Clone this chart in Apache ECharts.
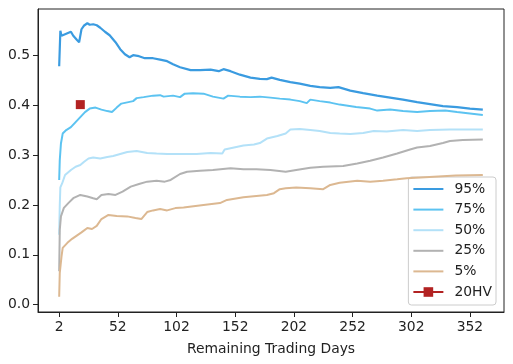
<!DOCTYPE html>
<html>
<head>
<meta charset="utf-8">
<script src="https://cdn.jsdelivr.net/npm/echarts@6/dist/echarts.min.js"></script>
<style>html,body{margin:0;padding:0;background:#fff}#c{width:513px;height:364px}</style>
</head>
<body>
<div id="c"></div>
<script>
const xTicks = [2, 52, 102, 152, 202, 252, 302, 352];
const yTicks = [0, 0.1, 0.2, 0.3, 0.4, 0.5];
const seriesNames = ['95%', '75%', '50%', '25%', '5%', '20HV'];

const p95 = [[2,0.478],[3,0.549],[4,0.539],[7,0.542],[10,0.545],[12,0.547],[14,0.539],[17,0.531],[19,0.526],[21,0.552],[23,0.559],[26,0.564],[28,0.561],[31,0.562],[34,0.560],[37,0.555],[41,0.547],[45,0.540],[50,0.526],[54,0.512],[58,0.502],[62,0.496],[65,0.500],[70,0.498],[75,0.494],[82,0.494],[88,0.491],[94,0.488],[99,0.482],[105,0.476],[114,0.470],[122,0.470],[131,0.471],[138,0.468],[142,0.472],[148,0.468],[156,0.461],[165,0.455],[173,0.4525],[179,0.452],[183,0.455],[190,0.4506],[199,0.446],[207,0.443],[216,0.4386],[224,0.436],[233,0.4347],[240,0.436],[250,0.429],[261,0.424],[273,0.419],[284,0.415],[295,0.411],[307,0.406],[318,0.402],[329,0.398],[341,0.396],[352,0.393],[363,0.391]];

const p75 = [[2,0.25],[2.5,0.29],[3.5,0.323],[5,0.343],[8,0.35],[12,0.356],[16,0.366],[20,0.376],[24,0.386],[28,0.393],[33,0.395],[38,0.391],[43,0.388],[47,0.386],[51,0.395],[55,0.403],[61,0.406],[65,0.408],[68,0.414],[74,0.416],[82,0.419],[88,0.42],[91,0.417],[99,0.419],[105,0.416],[109,0.423],[116,0.424],[125,0.423],[133,0.417],[142,0.413],[146,0.419],[156,0.417],[165,0.416],[173,0.417],[182,0.415],[190,0.413],[199,0.411],[207,0.408],[213,0.404],[216,0.411],[224,0.408],[233,0.405],[241,0.401],[255,0.396],[267,0.393],[273,0.389],[284,0.391],[295,0.388],[307,0.386],[318,0.388],[331,0.389],[341,0.386],[352,0.383],[363,0.380]];

const p50 = [[2,0.14],[2.5,0.2],[3,0.235],[4.5,0.243],[7,0.26],[12,0.27],[16,0.2765],[20,0.28],[23,0.286],[27,0.293],[31,0.295],[37,0.293],[43,0.296],[48,0.298],[54,0.302],[60,0.306],[68,0.308],[77,0.304],[85,0.303],[94,0.302],[105,0.302],[119,0.302],[131,0.304],[141,0.303],[143,0.311],[151,0.315],[159,0.319],[168,0.321],[173,0.324],[179,0.333],[188,0.338],[195,0.343],[199,0.351],[207,0.352],[216,0.35],[224,0.348],[233,0.344],[241,0.343],[250,0.342],[261,0.344],[270,0.348],[281,0.347],[295,0.35],[307,0.348],[318,0.35],[335,0.351],[352,0.351],[363,0.351]];

const p25 = [[2,0.067],[2.5,0.15],[3.5,0.177],[6,0.194],[10,0.204],[14,0.2135],[20,0.22],[26,0.217],[31,0.2135],[34,0.2115],[38,0.22],[44,0.222],[50,0.22],[56,0.2267],[63,0.2367],[70,0.242],[77,0.2466],[85,0.2486],[92,0.2466],[97,0.25],[105,0.262],[111,0.2666],[122,0.2686],[133,0.27],[148,0.2733],[159,0.2713],[170,0.2713],[182,0.27],[195,0.2666],[204,0.27],[216,0.2745],[227,0.2765],[244,0.278],[256,0.283],[267,0.2885],[278,0.295],[290,0.303],[301,0.311],[307,0.315],[318,0.318],[329,0.324],[335,0.328],[346,0.33],[363,0.331]];

const p5 = [[2,0.016],[2.5,0.064],[4,0.097],[5,0.114],[9,0.124],[13,0.132],[17,0.1385],[21,0.145],[26,0.1537],[30,0.1518],[34,0.158],[38,0.1717],[44,0.18],[51,0.178],[60,0.177],[67,0.1737],[72,0.1717],[77,0.1857],[82,0.189],[88,0.1916],[94,0.189],[101,0.1936],[108,0.195],[125,0.2],[139,0.2036],[145,0.21],[159,0.2155],[170,0.218],[179,0.22],[185,0.2235],[190,0.2315],[195,0.2335],[204,0.2347],[216,0.2335],[227,0.2315],[233,0.24],[241,0.2446],[256,0.2486],[267,0.2466],[278,0.2486],[290,0.2514],[298,0.2534],[310,0.255],[325,0.257],[340,0.259],[363,0.26]];

const hv20 = [[20,0.401]];

const colors = ['#3a9be0', '#5cc3f1', '#b3e1f8', '#b2b2b2', '#dcb891', '#b22222'];
const font = 'DejaVu Sans';
const fs = 13.9;
const barIcon = 'path://M0,0L30,0L30,2L0,2Z';

const chart = echarts.init(document.getElementById('c'), null, {renderer: 'canvas'});
const lineSeries = [p95, p75, p50, p25, p5].map((d, i) => ({
  name: seriesNames[i], type: 'line', data: d, symbol: 'none',
  lineStyle: {width: i === 0 ? 2.2 : 2, color: colors[i]}, itemStyle: {color: colors[i]},
  z: 2 + i, silent: true
}));
lineSeries.push({
  name: seriesNames[5], type: 'line', data: hv20, symbol: 'rect', symbolSize: 9,
  lineStyle: {width: 2, color: colors[5]}, itemStyle: {color: colors[5]}, z: 8
});

chart.setOption({
  animation: false,
  backgroundColor: '#fff',
  grid: {left: 38, right: 9, top: 9, bottom: 52, show: true, borderColor: '#222', borderWidth: 1, backgroundColor: 'transparent'},
  xAxis: {
    type: 'value', min: -16.05, max: 381.05,
    name: 'Remaining Trading Days', nameLocation: 'middle', nameGap: 30,
    nameTextStyle: {fontFamily: font, fontSize: fs, color: '#222'},
    axisLine: {show: true, onZero: false, lineStyle: {color: '#222', width: 1}},
    axisTick: {show: true, length: 5, customValues: xTicks, lineStyle: {color: '#222'}},
    axisLabel: {customValues: xTicks, margin: 8, fontFamily: font, fontSize: fs, color: '#222'},
    splitLine: {show: false}
  },
  yAxis: {
    type: 'value', min: -0.0146, max: 0.5926,
    axisLine: {show: true, onZero: false, lineStyle: {color: '#222', width: 1}},
    axisTick: {show: true, length: 5, customValues: yTicks, lineStyle: {color: '#222'}},
    axisLabel: {customValues: yTicks, margin: 8, fontFamily: font, fontSize: fs, color: '#222', formatter: v => v.toFixed(1)},
    splitLine: {show: false}
  },
  legend: {
    data: seriesNames.map((n, i) => i < 5 ? {name: n, icon: barIcon} : {name: n}),
    orient: 'vertical', right: 17, bottom: 59,
    backgroundColor: 'rgba(255,255,255,0.8)', borderColor: '#cccccc', borderWidth: 1, borderRadius: 3,
    padding: [5, 4, 6, 4], itemWidth: 30, itemHeight: 12, itemGap: 6.6,
    textStyle: {fontFamily: font, fontSize: fs, color: '#222', padding: [0, 0, 0, 6]},
    selectedMode: false
  },
  series: lineSeries
});
</script>
</body>
</html>
